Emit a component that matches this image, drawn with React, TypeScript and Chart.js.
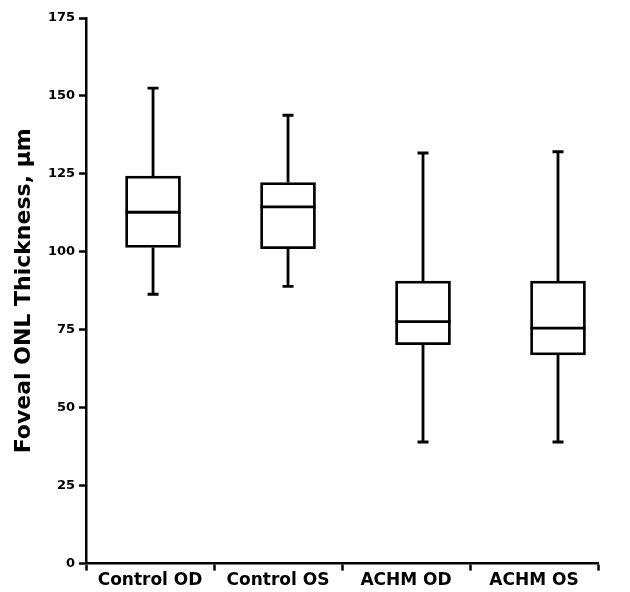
import React, { useEffect, useRef } from 'react';
import { Chart, registerables } from 'chart.js';

Chart.register(...registerables);

const categories = ['Control OD', 'Control OS', 'ACHM OD', 'ACHM OS'];
const whiskerLow = [86.4, 88.9, 39.0, 39.0];
const q1 = [101.4, 101.0, 70.2, 66.9];
const median = [112.7, 114.4, 77.6, 75.5];
const q3 = [124.3, 122.2, 90.6, 90.6];
const whiskerHigh = [152.5, 143.8, 131.7, 132.1];
const yTicks = [0, 25, 50, 75, 100, 125, 150, 175];
const yTitle = 'Foveal ONL Thickness, \u03bcm';

const BOX_W = 55;
const CAP_W = 11;
const LINE_W = 2.8;

const whiskerPlugin = {
  id: 'whiskerPlugin',
  afterDatasetsDraw(chart: any) {
    const { ctx } = chart;
    const x2 = chart.scales.x2;
    const y = chart.scales.y;
    ctx.save();
    ctx.strokeStyle = '#000';
    ctx.lineWidth = LINE_W;
    ctx.lineCap = 'butt';
    categories.forEach((_, i) => {
      const cx = x2.getPixelForValue(i);
      const yLo = y.getPixelForValue(whiskerLow[i]);
      const yQ1 = y.getPixelForValue(q1[i]);
      const yMed = y.getPixelForValue(median[i]);
      const yQ3 = y.getPixelForValue(q3[i]);
      const yHi = y.getPixelForValue(whiskerHigh[i]);
      ctx.beginPath();
      ctx.moveTo(cx - BOX_W / 2, yMed);
      ctx.lineTo(cx + BOX_W / 2, yMed);
      ctx.moveTo(cx, yQ3);
      ctx.lineTo(cx, yHi);
      ctx.moveTo(cx, yQ1);
      ctx.lineTo(cx, yLo);
      ctx.moveTo(cx - CAP_W / 2, yHi);
      ctx.lineTo(cx + CAP_W / 2, yHi);
      ctx.moveTo(cx - CAP_W / 2, yLo);
      ctx.lineTo(cx + CAP_W / 2, yLo);
      ctx.stroke();
    });
    ctx.restore();
  },
};

export default function App() {
  const canvasRef = useRef<HTMLCanvasElement | null>(null);

  useEffect(() => {
    if (!canvasRef.current) return;
    Chart.defaults.font.family = "'DejaVu Sans', sans-serif";
    const chart = new Chart(canvasRef.current, {
      type: 'bar',
      data: {
        labels: categories,
        datasets: [
          {
            label: 'IQR',
            xAxisID: 'x2',
            yAxisID: 'y',
            data: categories.map((_, i) => ({ x: i, y: [q1[i], q3[i]] })) as any,
            backgroundColor: '#fff',
            borderColor: '#000',
            borderWidth: LINE_W,
            borderSkipped: false,
            barThickness: BOX_W,
          } as any,
        ],
      },
      options: {
        animation: false,
        responsive: false,
        events: [],
        layout: { padding: { left: 11, top: 18, right: 32, bottom: 1 } },
        plugins: {
          legend: { display: false },
          tooltip: { enabled: false },
          title: { display: false },
        },
        scales: {
          x: {
            type: 'category',
            position: 'bottom',
            offset: true,
            grid: {
              offset: true,
              drawOnChartArea: false,
              drawTicks: true,
              tickLength: 7,
              tickColor: '#000',
              tickWidth: 2.5,
            },
            border: { display: true, color: '#000', width: 2.5 },
            ticks: {
              color: '#000',
              padding: 0,
              maxRotation: 0,
              autoSkip: false,
              font: { family: "'DejaVu Sans', sans-serif", weight: 'bold', size: 17 },
            },
          },
          x2: {
            type: 'linear',
            position: 'bottom',
            display: false,
            min: -0.4963,
            max: 3.2963,
            offset: false,
          },
          y: {
            type: 'linear',
            min: 0,
            max: 175,
            afterBuildTicks: (scale: any) => {
              scale.ticks = yTicks.map((v) => ({ value: v }));
            },
            grid: {
              drawOnChartArea: false,
              drawTicks: true,
              tickLength: 7,
              tickColor: '#000',
              tickWidth: 2.5,
            },
            border: { display: true, color: '#000', width: 2.5 },
            ticks: {
              color: '#000',
              padding: 4,
              font: { family: "'DejaVu Sans', sans-serif", weight: 'bold', size: 13 },
            },
            title: {
              display: true,
              text: yTitle,
              color: '#000',
              padding: { top: 0, bottom: 6.5 },
              font: { family: "'DejaVu Sans', sans-serif", weight: 'bold', size: 22 },
            },
          },
        },
      } as any,
      plugins: [whiskerPlugin],
    });
    return () => chart.destroy();
  }, []);

  return (
    <div style={{ position: 'absolute', left: 0, top: 0, width: 630, height: 592, background: '#fff' }}>
      <canvas ref={canvasRef} width={630} height={592} />
    </div>
  );
}
